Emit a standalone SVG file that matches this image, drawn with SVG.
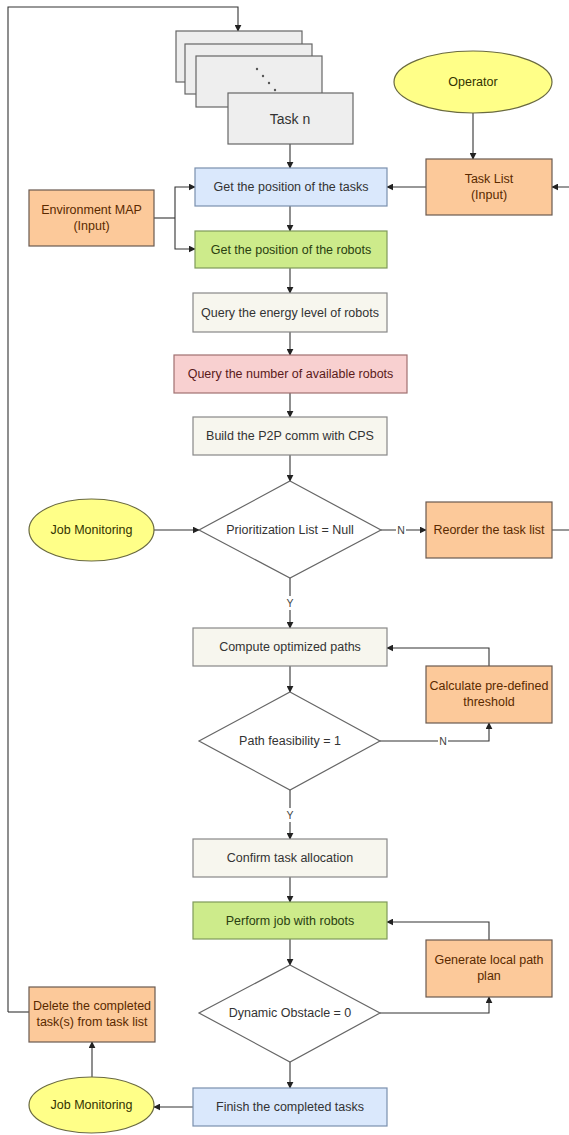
<svg xmlns="http://www.w3.org/2000/svg" width="569" height="1135" viewBox="0 0 569 1135">
<defs>
<marker id="ah" viewBox="0 0 10 10" refX="9" refY="5" markerWidth="7" markerHeight="7" markerUnits="userSpaceOnUse" orient="auto">
<path d="M0,0 L10,5 L0,10 Z" fill="#222"/>
</marker>
<style>
text{font-family:"Liberation Sans",Arial,sans-serif;font-size:12.5px;text-anchor:middle;dominant-baseline:central;fill:#333}
.e{fill:none;stroke:#333;stroke-width:1.1}
.ea{fill:none;stroke:#333;stroke-width:1.1;marker-end:url(#ah)}
.stk{fill:#eeeeee;stroke:#666;stroke-width:1.2}
.blue{fill:#dae8fc;stroke:#7a8fad;stroke-width:1.2}
.green{fill:#cdeb8b;stroke:#7f9a5a;stroke-width:1.2}
.gray{fill:#f7f6ee;stroke:#888;stroke-width:1.2}
.pink{fill:#f8d0d0;stroke:#a07070;stroke-width:1.2}
.orange{fill:#fcc99a;stroke:#6a5a50;stroke-width:1.2}
.yel{fill:#ffff88;stroke:#6a6a40;stroke-width:1.2}
.dia{fill:#ffffff;stroke:#666;stroke-width:1.2}
.to{fill:#5a2a00}
.tg{fill:#2a4010}
.tp{fill:#5a1a1a}
.ty{fill:#333300}
.lbl{font-size:10.5px;fill:#444}
.big{font-size:14px}
</style>
</defs>

<g id="connectors">
<polyline class="ea" points="8,1012 8,7 238,7 238,31"/>
<line class="e" x1="8" y1="1012" x2="29" y2="1012"/>
<line class="ea" x1="290" y1="144" x2="290" y2="168"/>
<line class="ea" x1="473" y1="113" x2="473" y2="159"/>
<line class="ea" x1="426" y1="187" x2="387" y2="187"/>
<polyline class="ea" points="552,530 575,530 575,187 552,187"/>
<polyline class="e" points="154,218 175,218"/>
<polyline class="ea" points="175,218 175,187 195,187"/>
<polyline class="ea" points="175,218 175,249 195,249"/>
<line class="ea" x1="290" y1="206" x2="290" y2="231"/>
<line class="ea" x1="290" y1="268" x2="290" y2="293"/>
<line class="ea" x1="290" y1="332" x2="290" y2="355"/>
<line class="ea" x1="290" y1="393" x2="290" y2="417"/>
<line class="ea" x1="290" y1="455" x2="290" y2="481"/>
<line class="ea" x1="154" y1="530" x2="199" y2="530"/>
<line class="ea" x1="381" y1="530" x2="426" y2="530"/>
<rect x="396" y="523" width="10" height="14" fill="#fff"/>
<text class="lbl" x="401" y="530">N</text>
<line class="ea" x1="290" y1="578" x2="290" y2="628"/>
<rect x="285" y="596" width="10" height="14" fill="#fff"/>
<text class="lbl" x="290" y="603">Y</text>
<polyline class="ea" points="489,666 489,648 387,648"/>
<line class="ea" x1="290" y1="666" x2="290" y2="692"/>
<polyline class="ea" points="380,741 489,741 489,723"/>
<rect x="438" y="734" width="10" height="14" fill="#fff"/>
<text class="lbl" x="443" y="741">N</text>
<line class="ea" x1="290" y1="790" x2="290" y2="839"/>
<rect x="285" y="808" width="10" height="14" fill="#fff"/>
<text class="lbl" x="290" y="815">Y</text>
<line class="ea" x1="290" y1="877" x2="290" y2="902"/>
<line class="ea" x1="290" y1="939" x2="290" y2="965"/>
<polyline class="ea" points="489,940 489,922 387,922"/>
<polyline class="ea" points="380,1013 489,1013 489,997"/>
<line class="ea" x1="290" y1="1062" x2="290" y2="1088"/>
<line class="ea" x1="193" y1="1107" x2="154" y2="1107"/>
<line class="ea" x1="92" y1="1077" x2="92" y2="1042"/>
</g>

<g id="task-stack">
<rect class="stk" x="176" y="31" width="126" height="51"/>
<rect class="stk" x="185" y="44" width="127" height="50"/>
<rect class="stk" x="196" y="56" width="126" height="51"/>
<circle cx="257" cy="69" r="1.2" fill="#555"/>
<circle cx="263" cy="76" r="1.2" fill="#555"/>
<circle cx="269" cy="83" r="1.2" fill="#555"/>
<circle cx="275" cy="90" r="1.2" fill="#555"/>
</g>
<g id="task-n">
<rect class="stk" x="228" y="93" width="125" height="51"/>
<text class="big" x="290" y="119">Task n</text>
</g>
<g id="operator">
<ellipse class="yel" cx="473" cy="82" rx="79" ry="31"/>
<text class="ty" x="473" y="82">Operator</text>
</g>
<g id="task-list">
<rect class="orange" x="426" y="159" width="126" height="56"/>
<text class="to" x="489" y="179">Task List</text>
<text class="to" x="489" y="195">(Input)</text>
</g>
<g id="env-map">
<rect class="orange" x="29" y="190" width="125" height="56"/>
<text class="to" x="91.5" y="210">Environment MAP</text>
<text class="to" x="91.5" y="226">(Input)</text>
</g>
<g id="get-tasks">
<rect class="blue" x="195" y="168" width="192" height="38"/>
<text x="291" y="187">Get the position of the tasks</text>
</g>
<g id="get-robots">
<rect class="green" x="195" y="231" width="192" height="37"/>
<text class="tg" x="291" y="249.5">Get the position of the robots</text>
</g>
<g id="query-energy">
<rect class="gray" x="193" y="293" width="194" height="39"/>
<text x="290" y="312.5">Query the energy level of robots</text>
</g>
<g id="query-number">
<rect class="pink" x="174" y="355" width="233" height="38"/>
<text class="tp" x="290.5" y="374">Query the number of available robots</text>
</g>
<g id="build-p2p">
<rect class="gray" x="193" y="417" width="194" height="38"/>
<text x="290" y="436">Build the P2P comm with CPS</text>
</g>
<g id="job-monitoring-1">
<ellipse class="yel" cx="91.5" cy="530" rx="62.5" ry="31"/>
<text class="ty" x="91.5" y="530">Job Monitoring</text>
</g>
<g id="prioritization">
<polygon class="dia" points="290,481 381,530 290,578 199,530"/>
<text x="290" y="530">Prioritization List = Null</text>
</g>
<g id="reorder">
<rect class="orange" x="426" y="502" width="126" height="56"/>
<text class="to" x="489" y="530">Reorder the task list</text>
</g>
<g id="compute">
<rect class="gray" x="193" y="628" width="194" height="38"/>
<text x="290" y="647">Compute optimized paths</text>
</g>
<g id="threshold">
<rect class="orange" x="426" y="666" width="126" height="57"/>
<text class="to" x="489" y="686">Calculate pre-defined</text>
<text class="to" x="489" y="702">threshold</text>
</g>
<g id="feasibility">
<polygon class="dia" points="290,692 380,741 290,790 199,741"/>
<text x="290" y="741">Path feasibility = 1</text>
</g>
<g id="confirm">
<rect class="gray" x="193" y="839" width="194" height="38"/>
<text x="290" y="858">Confirm task allocation</text>
</g>
<g id="perform">
<rect class="green" x="193" y="902" width="194" height="37"/>
<text class="tg" x="290" y="920.5">Perform job with robots</text>
</g>
<g id="local-path">
<rect class="orange" x="426" y="940" width="126" height="57"/>
<text class="to" x="489" y="960">Generate local path</text>
<text class="to" x="489" y="976">plan</text>
</g>
<g id="dynamic">
<polygon class="dia" points="290,965 380,1013 290,1062 199,1013"/>
<text x="290" y="1013">Dynamic Obstacle = 0</text>
</g>
<g id="delete">
<rect class="orange" x="29" y="987" width="126" height="55"/>
<text class="to" x="92" y="1006">Delete the completed</text>
<text class="to" x="92" y="1022">task(s) from task list</text>
</g>
<g id="finish">
<rect class="blue" x="193" y="1088" width="194" height="38"/>
<text x="290" y="1107">Finish the completed tasks</text>
</g>
<g id="job-monitoring-2">
<ellipse class="yel" cx="91.5" cy="1105" rx="62.5" ry="28"/>
<text class="ty" x="91.5" y="1105">Job Monitoring</text>
</g>
</svg>
